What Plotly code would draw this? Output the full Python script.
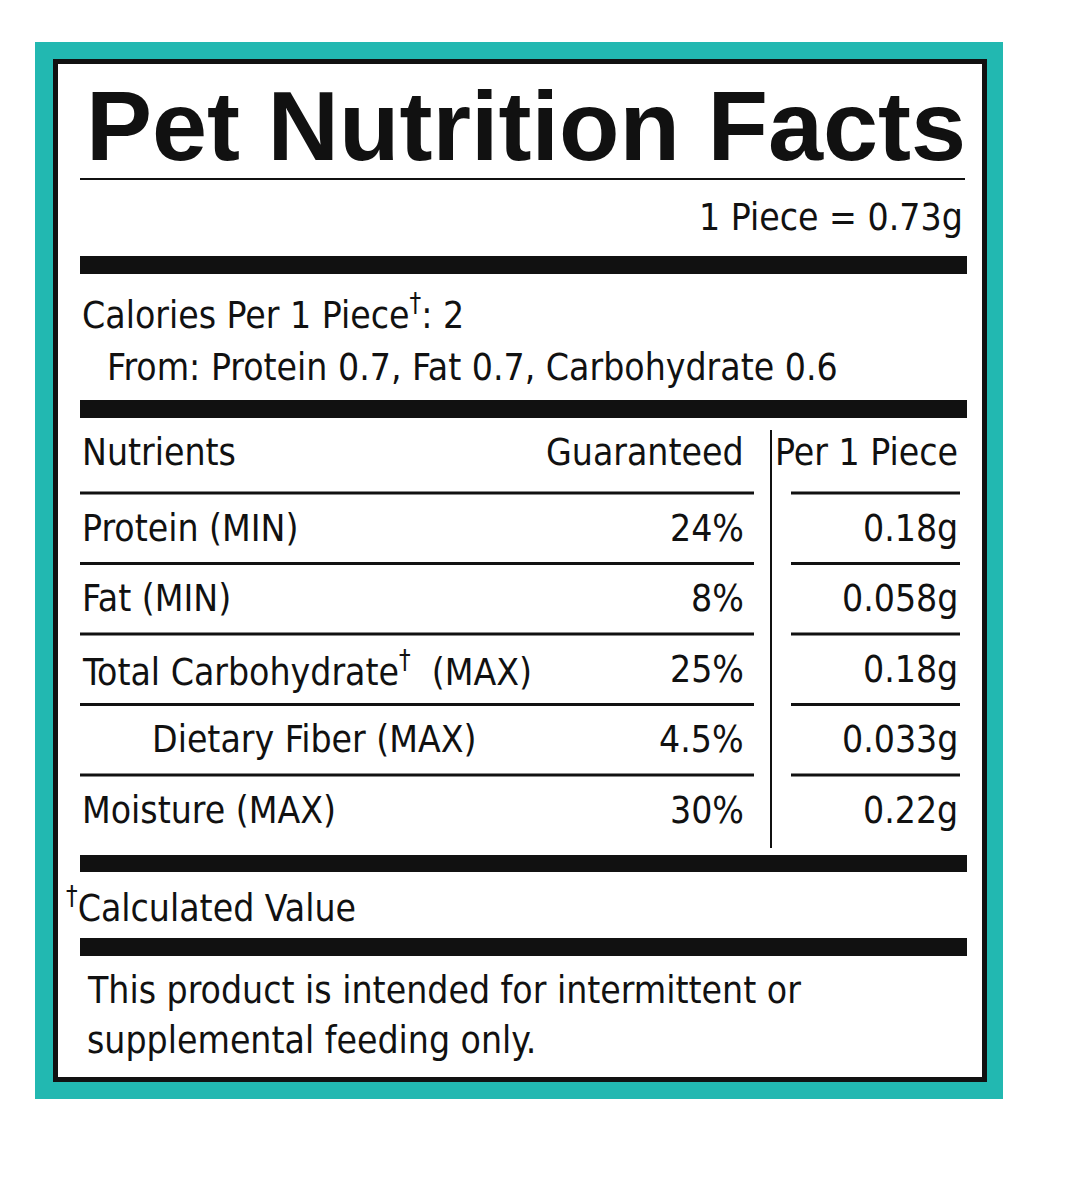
import plotly.graph_objects as go

title = "Pet Nutrition Facts"
serving = "1 Piece = 0.73g"
calories = "Calories Per 1 Piece<sup>†</sup>: 2"
calories_from = "From: Protein 0.7, Fat 0.7, Carbohydrate 0.6"
headers = ["Nutrients", "Guaranteed", "Per 1 Piece"]
nutrients = ["Protein (MIN)", "Fat (MIN)", "Total Carbohydrate<sup>†</sup>  (MAX)", "Dietary Fiber (MAX)", "Moisture (MAX)"]
indent = [False, False, False, True, False]
guaranteed = ["24%", "8%", "25%", "4.5%", "30%"]
per_piece = ["0.18g", "0.058g", "0.18g", "0.033g", "0.22g"]
footnote = "<sup>†</sup>Calculated Value"
disclaimer = ["This product is intended for intermittent or", "supplemental feeding only."]

W, H = 1087, 1183
FONT = "DejaVu Sans Condensed, Liberation Sans Narrow, Liberation Sans"
FS = 37
fig = go.Figure()
shapes = []
ann = []

def rect(x0, y0, x1, y1, color):
    shapes.append(dict(type="rect", x0=x0, y0=y0, x1=x1, y1=y1, fillcolor=color,
                       line=dict(width=0), layer="below"))

def text(t, x, y, size, anchor="left", bold=False, font=FONT):
    ann.append(dict(text=t, x=x, y=y, xanchor=anchor, yanchor="middle", showarrow=False,
                    font=dict(family=font, size=size, color="#111111",
                              weight="bold" if bold else "normal")))

rect(35, 42, 1003, 1099, "#22b8b1")
rect(53, 59, 987, 1082, "#111111")
rect(58, 64, 982, 1077, "white")

text(title, 84, 125, 99, bold=True, font="Liberation Sans, Arial")
rect(80, 178, 965, 180, "#111111")
text(serving, 965, 217, FS, anchor="right")
rect(80, 256, 967, 274, "#111111")
text(calories, 80, 312, FS)
text(calories_from, 105, 367, FS)
rect(80, 400, 967, 418, "#111111")
text(headers[0], 80, 452, FS)
text(headers[1], 746, 452, FS, anchor="right")
text(headers[2], 960, 452, FS, anchor="right")
rect(770, 430, 772, 848, "#111111")

row_h = 70.5
top = 493
for i, (n, g, p) in enumerate(zip(nutrients, guaranteed, per_piece)):
    y_line = top + i * row_h
    rect(80, y_line - 1.5, 754, y_line + 1.5, "#111111")
    rect(791, y_line - 1.5, 960, y_line + 1.5, "#111111")
    yc = y_line + row_h / 2
    text(n, 150 if indent[i] else 80, yc, FS)
    text(g, 746, yc, FS, anchor="right")
    text(p, 960, yc, FS, anchor="right")

rect(80, 855, 967, 872, "#111111")
text(footnote, 64, 905, FS)
rect(80, 938, 967, 956, "#111111")
for j, line in enumerate(disclaimer):
    text(line, 85, 990 + j * 50, FS)

fig.update_layout(width=W, height=H, margin=dict(l=0, r=0, t=0, b=0),
                  plot_bgcolor="white", paper_bgcolor="white",
                  xaxis=dict(range=[8, W + 8], visible=False, fixedrange=True),
                  yaxis=dict(range=[H + 8, 8], visible=False, fixedrange=True),
                  shapes=shapes, annotations=ann, showlegend=False)
fig.write_html("out.html")
